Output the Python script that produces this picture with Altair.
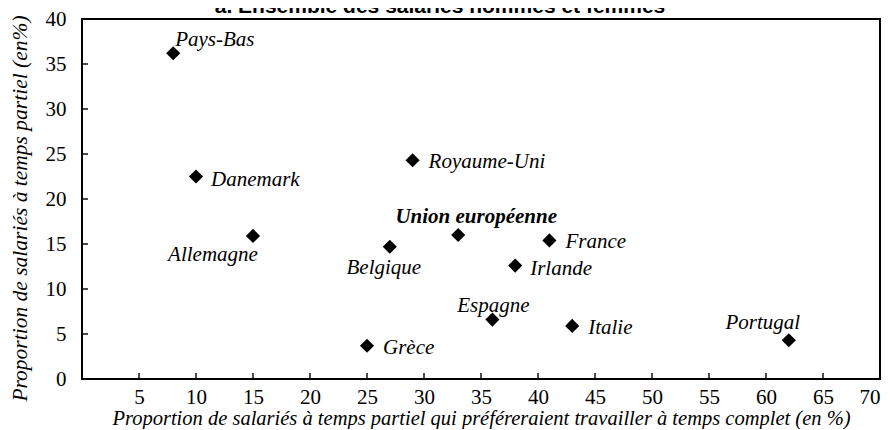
import altair as alt
import pandas as pd

titre = "a. Ensemble des salariés hommes et femmes"
titre_x = "Proportion de salariés à temps partiel qui préféreraient travailler à temps complet (en %)"
titre_y = "Proportion de salariés à temps partiel (en%)"

pays = ["Pays-Bas", "Danemark", "Allemagne", "Grèce", "Belgique", "Royaume-Uni",
        "Union européenne", "Espagne", "Irlande", "France", "Italie", "Portugal"]
prefer_complet = [8, 10, 15, 25, 27, 29, 33, 36, 38, 41, 43, 62]
temps_partiel = [36.2, 22.5, 15.9, 3.7, 14.7, 24.3, 16.0, 6.6, 12.6, 15.4, 5.9, 4.3]

x_ticks = [5, 10, 15, 20, 25, 30, 35, 40, 45, 50, 55, 60, 65, 70]
y_ticks = [0, 5, 10, 15, 20, 25, 30, 35, 40]

df = pd.DataFrame({"pays": pays, "x": prefer_complet, "y": temps_partiel})

# label placement (layout only): align, dx, dy, bold
placement = {
    "Pays-Bas": ("left", 2, -13, False),
    "Danemark": ("left", 15, 3, False),
    "Allemagne": ("center", -40, 19, False),
    "Grèce": ("left", 16, 2, False),
    "Belgique": ("center", -6, 21, False),
    "Royaume-Uni": ("left", 16, 2, False),
    "Union européenne": ("center", 18, -18, True),
    "Espagne": ("center", 1, -14, False),
    "Irlande": ("left", 15, 3, False),
    "France": ("left", 16, 2, False),
    "Italie": ("left", 16, 2, False),
    "Portugal": ("center", -26, -17, False),
}

W, H = 798, 360
SERIF = "Liberation Serif"
xs = alt.Scale(domain=[0, 70], nice=False, zero=False)
ys = alt.Scale(domain=[0, 40], nice=False, zero=False)

x_axis = alt.Axis(values=x_ticks, ticks=False, domain=False, grid=False,
                  labelFont=SERIF, labelFontSize=21, labelColor="black", labelPadding=7,
                  title=titre_x, titleFont=SERIF, titleFontSize=20.5, titleFontStyle="italic",
                  titleFontWeight="normal", titleColor="black", titlePadding=1)
y_axis = alt.Axis(values=y_ticks, ticks=False, domain=False, grid=False,
                  labelFont=SERIF, labelFontSize=21, labelColor="black", labelPadding=16,
                  title=titre_y, titleFont=SERIF, titleFontSize=21.5, titleFontStyle="italic",
                  titleFontWeight="normal", titleColor="black", titlePadding=14,
                  titleY=189)


def X(field):
    return alt.X(field, scale=xs, axis=x_axis)


def Y(field):
    return alt.Y(field, scale=ys, axis=y_axis)


points = alt.Chart(df).mark_point(shape="diamond", filled=True, color="black",
                                  size=200, opacity=1).encode(x=X("x:Q"), y=Y("y:Q"))

layers = [points]
for p, (align, dx, dy, bold) in placement.items():
    t = alt.Chart(df).transform_filter(alt.datum.pays == p).mark_text(
        align=align, baseline="middle", dx=dx, dy=dy, font=SERIF, fontSize=21,
        fontStyle="italic", fontWeight="bold" if bold else "normal", color="black"
    ).encode(x=X("x:Q"), y=Y("y:Q"), text="pays:N")
    layers.append(t)

xt = pd.DataFrame({"x": x_ticks[:-1]})
yt = pd.DataFrame({"y": y_ticks[1:-1]})
xtick_marks = alt.Chart(xt).mark_tick(orient="vertical", color="black", size=6,
                                      thickness=2).encode(x=X("x:Q"), y=alt.value(H - 3))
ytick_marks = alt.Chart(yt).mark_tick(orient="horizontal", color="black", size=6,
                                      thickness=2).encode(y=Y("y:Q"), x=alt.value(3))
layers += [xtick_marks, ytick_marks]

title_mark = alt.Chart(pd.DataFrame({"t": [titre]})).mark_text(
    align="center", baseline="alphabetic", font="Liberation Sans", fontSize=21,
    fontWeight="bold", color="black"
).encode(text="t:N", x=alt.value(358), y=alt.value(-6))
layers.append(title_mark)

chart = alt.layer(*layers).properties(
    width=W, height=H,
    autosize=alt.AutoSizeParams(type="none"),
    padding={"left": 74, "top": 11, "right": 6, "bottom": 50},
    background="white",
).configure_view(stroke="black", strokeWidth=2)

chart.save("out.html", embed_options={"renderer": "svg", "actions": False})
